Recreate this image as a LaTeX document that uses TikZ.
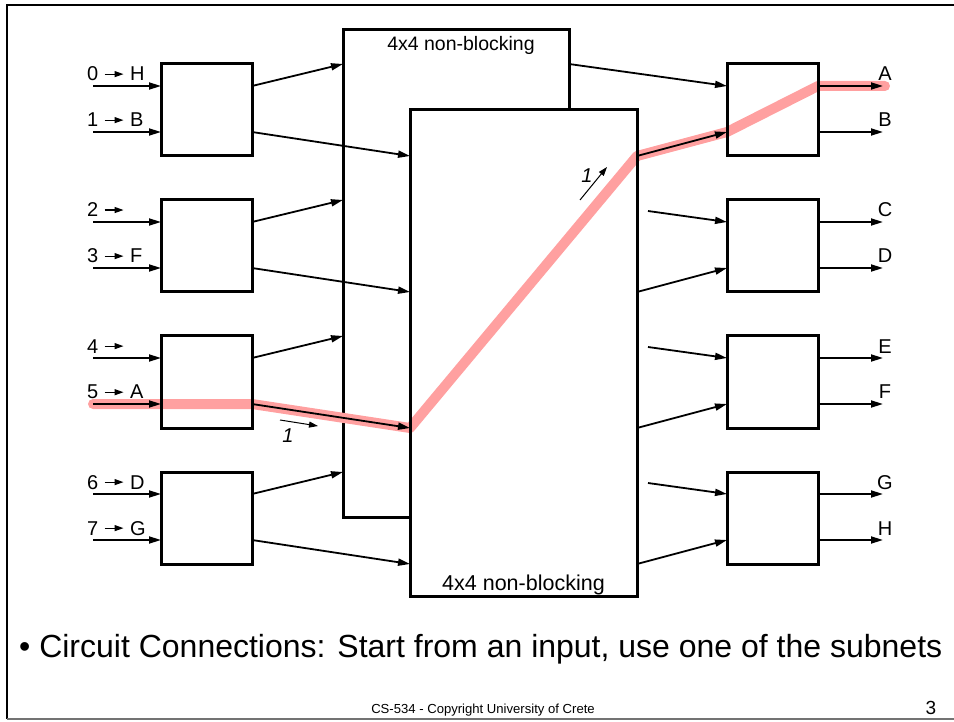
\documentclass[tikz,border=0pt]{standalone}
\usepackage{fontspec}
\setmainfont{Liberation Sans}
\usetikzlibrary{arrows.meta,calc}
\definecolor{hl}{RGB}{255,160,160}
\pgfdeclarelayer{back}
\pgfsetlayers{back,main}
\begin{document}
\begin{tikzpicture}[x=1pt,y=-1pt,
  box/.style={draw, line width=3pt, minimum width=91pt, minimum height=92pt, inner sep=0pt, outer sep=0pt},
  big/.style={inner sep=0pt, outer sep=0pt, anchor=north west},
  arr/.style={line width=1.8pt, -{Triangle[length=12pt,width=7pt]}},
  tag/.style={font=\fontsize{20}{23}\selectfont, inner sep=0pt, anchor=base west},
  tick/.style={line width=1.2pt, -{Triangle[length=9pt,width=6pt]}},
  flow/.style={line width=1pt, -{Triangle[length=9pt,width=6pt]}},
  route/.style={line width=10pt, draw=hl, line cap=round, line join=round}]
\useasboundingbox (0,0) rectangle (954,722);

% slide frame
\draw[line width=2.5pt] (954,5) -- (7,5) -- (7,719);
\draw[line width=2pt, draw=black!55] (7,719) -- (954,719);

% the two 4x4 subnets
\node[big, minimum width=226pt, minimum height=487pt] (U) at (343,30) {};
\node[big, draw, line width=3pt, minimum width=227pt, minimum height=486pt] (N) at (410,110) {};
\node[font=\fontsize{19.5}{23}\selectfont, inner sep=0pt, anchor=north] (Ut) at ([shift={(5pt,-6pt)}]U.north) {4x4 non-blocking};
\node[font=\fontsize{21.5}{24}\selectfont, inner sep=0pt, anchor=base] (Nt) at ([yshift=6pt]N.south) {4x4 non-blocking};

% 2x2 switches on both sides
\foreach \i/\y in {1/110,2/246,3/382,4/518} {
  \node[box] (L\i) at (206.5,\y) {};
  \node[box] (R\i) at (772.5,\y) {};
}

% inputs with their destinations
\foreach \k/\i/\dy/\dest in {0/1/22/H,1/1/68/B,2/2/22/,3/2/68/F,4/3/22/,5/3/68/A,6/4/22/D,7/4/68/G} {
  \coordinate (e\k) at ([yshift=-\dy pt]L\i.north west);
  \coordinate (s\k) at ([xshift=-68pt]e\k);
  \draw[arr] (s\k) -- (e\k);
  \node[tag] (d\k) at ([shift={(-6pt,5pt)}]s\k) {\k};
  \draw[tick] ([xshift=6pt]d\k.east) -- ([xshift=25pt]d\k.east);
  \node[tag] (t\k) at ([shift={(37pt,5pt)}]s\k) {\dest};
}

% switch outputs into the subnets
\foreach \i in {1,...,4} {
  \draw[arr] ([yshift=-22pt]L\i.north east) -- (L\i.north -| U.west);
  \draw[arr] ([yshift=-68pt]L\i.north east) -- (L\i.south -| N.west);
}

% subnet outputs into the right switches
\draw[arr] (R1.north -| U.east) -- ([yshift=-22pt]R1.north west);
\foreach \i in {2,3,4} {
  \draw[arr] ($(R\i.north -| U.east)!0.5!([yshift=-22pt]R\i.north west)$) -- ([yshift=-22pt]R\i.north west);
}
\foreach \i in {1,...,4} {
  \draw[arr] (R\i.south -| N.east) -- ([yshift=-68pt]R\i.north west);
}

% outputs
\foreach \i/\a/\b in {1/A/B,2/C/D,3/E/F,4/G/H} {
  \coordinate (o\a) at ([shift={(65pt,-22pt)}]R\i.north east);
  \coordinate (o\b) at ([shift={(65pt,-68pt)}]R\i.north east);
  \draw[arr] ([yshift=-22pt]R\i.north east) -- (o\a);
  \draw[arr] ([yshift=-68pt]R\i.north east) -- (o\b);
  \node[tag, anchor=base] (l\a) at ([shift={(2pt,5pt)}]o\a) {\a};
  \node[tag, anchor=base] (l\b) at ([shift={(2pt,5pt)}]o\b) {\b};
}

% route 5 -> A through the lower subnet
\begin{pgfonlayer}{back}
  \draw[line width=3pt] (U.south west) rectangle (U.north east);
  \fill[white] (N.south west) rectangle (N.north east);
  \draw[route] (s5) -- (e5) -- ([yshift=-68pt]L3.north east) -- (L3.south -| N.west)
    -- (R1.south -| N.east) -- ([yshift=-68pt]R1.north west)
    -- ([yshift=-22pt]R1.north east) -- ([xshift=2pt]oA);
\end{pgfonlayer}

% stage markers
\coordinate (f1a) at (280,420);
\coordinate (f1b) at (318,426);
\draw[flow] (f1a) -- (f1b);
\node[font=\fontsize{20}{23}\itshape, inner sep=0pt] (n1) at (288,436) {1};
\coordinate (f2a) at (580,200);
\coordinate (f2b) at (607,167);
\draw[flow] (f2a) -- (f2b);
\node[font=\fontsize{20}{23}\itshape, inner sep=0pt] (n2) at (587,176) {1};

% slide text
\node[anchor=base west, font=\fontsize{32}{36}\selectfont, inner sep=0pt] (bul) at (19,657) {• Circuit Connections: Start from an input, use one of the subnets};
\node[anchor=base, font=\fontsize{13.1}{16}\selectfont, inner sep=0pt] (foot) at (483,713) {CS-534 - Copyright University of Crete};
\node[anchor=base, font=\fontsize{19}{22}\selectfont, inner sep=0pt] (pg) at (931,714) {3};
\end{tikzpicture}
\end{document}
